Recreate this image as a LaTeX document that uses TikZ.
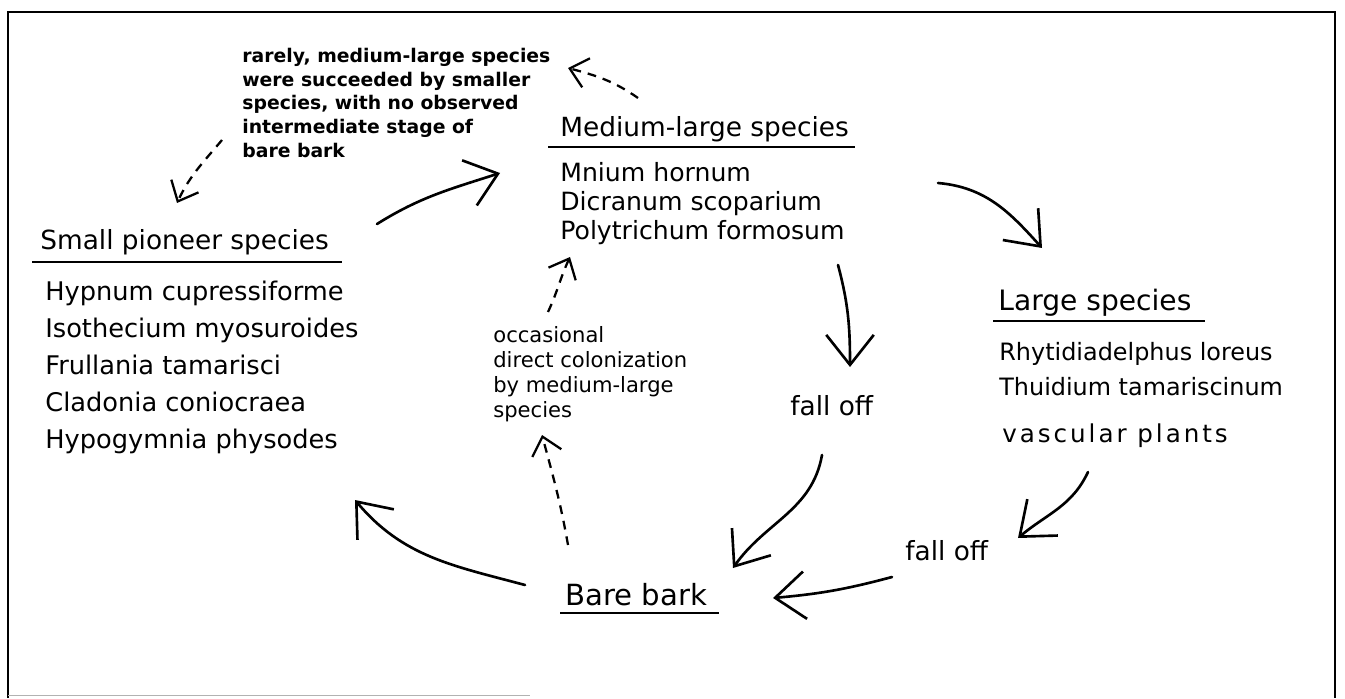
\documentclass[tikz,border=0pt]{standalone}
\usepackage{fontspec}
\setmainfont{DejaVu Sans}
\usetikzlibrary{arrows.meta}

\tikzset{
    head/.style={anchor=base west, inner sep=0pt},
    item/.style={anchor=base west, inner sep=0pt},
    flow/.style={line width=1.5pt, line cap=round, -{Straight Barb[length=6mm,width=9.5mm,line width=1.5pt]}},
    hint/.style={line width=1.3pt, dash pattern=on 5pt off 4pt, -{Straight Barb[length=3.4mm,width=6mm,line width=1.3pt]}},
    uline/.style={line width=1.6pt},
    frame/.style={line width=1.6pt}
}

\begin{document}
\begin{tikzpicture}
            \useasboundingbox (0,0) rectangle (26.9,13.96);
            % frame
            \draw[frame] (0.16,0) -- (0.16,13.72) -- (26.7,13.72) -- (26.7,0);
            \draw[gray!60, line width=0.6pt] (0.16,0.05) -- (10.6,0.05);

            % Small pioneer species
            \node[head, font=\fontsize{15}{18}\selectfont] (pionhead) at (0.8,8.96) {Small pioneer species};
            \draw[uline] ([shift={(-0.16,-0.24)}]pionhead.base west) -- ++(6.2,0);
            \foreach \txt [count=\i] in {Hypnum cupressiforme, Isothecium myosuroides, Frullania tamarisci, Cladonia coniocraea, Hypogymnia physodes} {
                \node[item, font=\fontsize{14.6}{18}\selectfont] (pion\i) at (0.9,{7.96-0.74*(\i-1)}) {\txt};
            }

            % Medium-large species
            \node[head, font=\fontsize{15}{18}\selectfont] (medhead) at (11.2,11.22) {Medium-large species};
            \draw[uline] ([shift={(-0.24,-0.2)}]medhead.base west) -- ++(6.14,0);
            \foreach \txt [count=\i] in {Mnium hornum, Dicranum scoparium, Polytrichum formosum} {
                \node[item, font=\fontsize{14.3}{17}\selectfont] (med\i) at (11.2,{10.32-0.58*(\i-1)}) {\txt};
            }

            % Large species
            \node[head, font=\fontsize{16}{19}\selectfont] (larghead) at (19.96,7.76) {Large species};
            \draw[uline] ([shift={(-0.1,-0.22)}]larghead.base west) -- ++(4.24,0);
            \foreach \txt/\y [count=\i] in {Rhytidiadelphus loreus/6.76, Thuidium tamariscinum/6.06} {
                \node[item, font=\fontsize{13.6}{16}\selectfont] (larg\i) at (19.98,\y) {\txt};
            }
            \node[item, font=\fontsize{14}{16}\selectfont\addfontfeatures{LetterSpace=12}] (larg3) at (20.04,5.12) {vascular plants};

            % Bare bark
            \node[head, font=\fontsize{16.6}{19}\selectfont] (bare) at (11.3,1.86) {Bare bark};
            \draw[uline] ([shift={(-0.1,-0.16)}]bare.base west) -- ++(3.18,0);

            \node[item, font=\fontsize{15}{18}\selectfont] (falla) at (15.8,5.66) {fall off};
            \node[item, font=\fontsize{15}{18}\selectfont] (fallb) at (18.1,2.76) {fall off};

            % notes
            \foreach \txt [count=\i] in {{rarely, medium-large species}, were succeeded by smaller, {species, with no observed}, intermediate stage of, bare bark} {
                \node[item, font=\fontsize{10.7}{13}\selectfont\bfseries] (note\i) at (4.84,{12.70-0.47*(\i-1)}) {\txt};
            }
            \foreach \txt [count=\i] in {occasional, direct colonization, by medium-large, species} {
                \node[item, font=\fontsize{12}{14}\selectfont] (occ\i) at (9.86,{7.12-0.5*(\i-1)}) {\txt};
            }

            % succession arrows
            \draw[flow] ([shift={(6.74,0.52)}]pionhead.base west) to[out=32,in=198] ([shift={(-1.2,0.18)}]med1.base west);
            \draw[flow] ([shift={(7.56,-0.02)}]med1.base west) to[out=-5,in=132] ([shift={(0.88,1.24)}]larghead.base west);
            \draw[flow] ([shift={(5.56,-0.5)}]med3.base west) to[out=-75,in=90] ([shift={(1.2,0.96)}]falla.base west);
            \draw[flow] ([shift={(0.64,-0.8)}]falla.base west) to[out=-100,in=55] ([shift={(3.36,0.74)}]bare.base west);
            \draw[flow] ([shift={(1.72,-0.6)}]larg3.base west) to[out=-115,in=40] ([shift={(2.26,0.44)}]fallb.base west);
            \draw[flow] ([shift={(-0.26,-0.34)}]fallb.base west) to[out=195,in=5] ([shift={(4.16,0.14)}]bare.base west);
            \draw[flow] ([shift={(-0.8,0.4)}]bare.base west) to[out=165,in=-50] ([shift={(6.2,-1.04)}]pion5.base west);

            % rare routes
            \draw[hint] ([shift={(0.06,1.2)}]bare.base west) to[out=100,in=-75] ([shift={(0.98,-0.36)}]occ4.base west);
            \draw[hint] ([shift={(1.1,0.6)}]occ1.base west) to[out=65,in=-115] ([shift={(0.2,-0.34)}]med3.base west);
            \draw[hint] ([shift={(1.56,0.78)}]medhead.base west) to[out=145,in=-15] ([shift={(6.52,-0.1)}]note1.base west);
            \draw[hint] ([shift={(-0.4,0.34)}]note5.base west) to[out=-130,in=65] ([shift={(2.74,0.94)}]pionhead.base west);
\end{tikzpicture}
\end{document}
